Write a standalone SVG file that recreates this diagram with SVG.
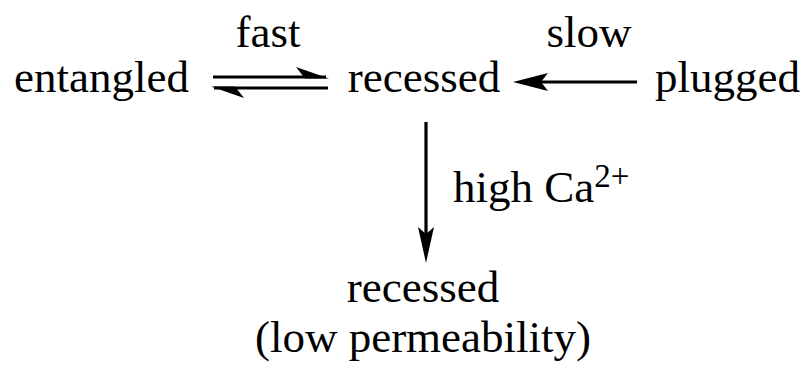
<svg xmlns="http://www.w3.org/2000/svg" width="807" height="368" viewBox="0 0 807 368">
  <style>
    text { font-family: "Liberation Serif", "Times New Roman", serif; font-size: 45px; fill: #000; }
    .line { stroke: #000; stroke-width: 3.2; fill: none; }
    .head { fill: #000; stroke: none; }
  </style>
  <rect width="807" height="368" fill="#fff"/>

  <g id="node-entangled"><text x="14" y="92">entangled</text></g>
  <g id="node-recessed"><text x="424" y="92" text-anchor="middle">recessed</text></g>
  <g id="node-plugged"><text x="655" y="92">plugged</text></g>
  <g id="node-recessed-low">
    <text x="423" y="302" text-anchor="middle">recessed</text>
    <text x="423" y="352" text-anchor="middle">(low permeability)</text>
  </g>

  <g id="connectors">
    <!-- equilibrium pair: entangled <=> recessed -->
    <line class="line" x1="213" y1="77" x2="326" y2="77"/>
    <path class="head" d="M329,78.5 L296,67 L305,78.5 Z"/>
    <line class="line" x1="214" y1="88" x2="328" y2="88"/>
    <path class="head" d="M211,86.5 L244,98 L235,86.5 Z"/>
    <text x="268" y="47" text-anchor="middle">fast</text>

    <!-- plugged -> recessed -->
    <line class="line" x1="637" y1="82" x2="535" y2="82"/>
    <path class="head" d="M513,82 L548,73 L541,82 L548,91 Z"/>
    <text x="589" y="47" text-anchor="middle">slow</text>

    <!-- recessed -> recessed (low permeability) -->
    <line class="line" x1="426" y1="122" x2="426" y2="245"/>
    <path class="head" d="M426,263 L418,227 L426,234 L434,227 Z"/>
    <text x="453" y="202">high Ca<tspan font-size="33" dy="-15">2+</tspan></text>
  </g>
</svg>
